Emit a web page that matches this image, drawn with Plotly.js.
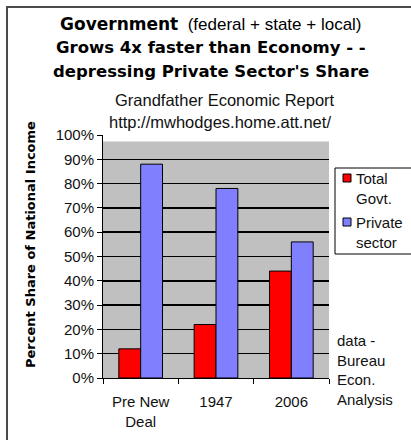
<!DOCTYPE html>
<html>
<head>
<meta charset="utf-8">
<script src="https://cdn.plot.ly/plotly-3.0.1.min.js"></script>
<style>
  html, body { margin: 0; padding: 0; background: #fff; }
  #wrap { position: relative; width: 411px; height: 440px; }
  #chart { width: 411px; height: 440px; }
  #frame { position: absolute; left: 6px; top: 6px; right: 0; bottom: 0;
           border-left: 2px solid #4a4a4a; border-top: 2px solid #4a4a4a; pointer-events: none; }
</style>
</head>
<body>
<div id="wrap"><div id="chart"></div><div id="frame"></div></div>
<script>
// ---- data ----
const categories = ["Pre New<br>Deal", "1947", "2006"];
const seriesNames = ["Total Govt.", "Private sector"];
const govtShare = [0.12, 0.22, 0.44];
const privateShare = [0.88, 0.78, 0.56];
const yTickVals = [0, 0.1, 0.2, 0.3, 0.4, 0.5, 0.6, 0.7, 0.8, 0.9, 1.0];
const yTickText = ["0%", "10%", "20%", "30%", "40%", "50%", "60%", "70%", "80%", "90%", "100%"];
const titleLines = ["Government", "(federal + state + local)", "Grows 4x faster than Economy - -", "depressing Private Sector's Share"];
const subtitleLines = ["Grandfather Economic Report", "http://mwhodges.home.att.net/"];
const yTitle = "Percent Share of National Income";
const sourceNote = ["data -", "Bureau", "Econ.", "Analysis"];

// ---- styling / layout helpers ----
const W = 411, H = 440;
const M = { l: 103, r: 82, t: 135, b: 62 };
const PW = W - M.l - M.r, PH = H - M.t - M.b;
const px = x => (x - M.l) / PW;
const py = y => (H - M.b - y) / PH;
const colors = ["#FF0000", "#8080FF"];
const ARIAL = "Liberation Sans, Arial, sans-serif";
const BOLD = "DejaVu Sans, Liberation Sans, sans-serif";

const traces = [govtShare, privateShare].map((vals, i) => ({
  type: "bar",
  x: categories,
  y: vals,
  name: seriesNames[i],
  marker: { color: colors[i], line: { color: "#000", width: 1 } },
  hoverinfo: "skip"
}));

const annotations = [
  { x: px(211), y: py(24), xref: "paper", yref: "paper", showarrow: false, xanchor: "center", yanchor: "middle",
    text: '<span style="font-family:DejaVu Sans;font-weight:bold">' + titleLines[0] + '</span>  ' + titleLines[1],
    font: { family: ARIAL, size: 17, color: "#000" } },
  { x: px(211), y: py(48), xref: "paper", yref: "paper", showarrow: false, xanchor: "center", yanchor: "middle",
    text: "<b>" + titleLines[2] + "</b>", font: { family: BOLD, size: 16.5, color: "#000" } },
  { x: px(211), y: py(71), xref: "paper", yref: "paper", showarrow: false, xanchor: "center", yanchor: "middle",
    text: "<b>" + titleLines[3] + "</b>", font: { family: BOLD, size: 16.5, color: "#000" } },
  { x: px(225), y: py(100), xref: "paper", yref: "paper", showarrow: false, xanchor: "center", yanchor: "middle",
    text: subtitleLines[0], font: { family: ARIAL, size: 16.5, color: "#111" } },
  { x: px(220), y: py(122), xref: "paper", yref: "paper", showarrow: false, xanchor: "center", yanchor: "middle",
    text: subtitleLines[1], font: { family: ARIAL, size: 16.5, color: "#111" } },
  { x: px(30), y: py(245), xref: "paper", yref: "paper", showarrow: false, xanchor: "center", yanchor: "middle",
    textangle: -90, text: "<b>" + yTitle + "</b>", font: { family: BOLD, size: 13, color: "#000" } },
  { x: px(335), y: py(370), xref: "paper", yref: "paper", showarrow: false, xanchor: "left", yanchor: "middle",
    align: "left", text: sourceNote.join("<br>"), font: { family: ARIAL, size: 15, color: "#111" } }
];

// custom legend (box, swatches, labels)
const legendTop = 168, legendBottom = 254;
const itemY = [178, 222];
const shapes = [
  { type: "rect", xref: "paper", yref: "y", x0: 0, x1: 1, y0: 0, y1: 0.973,
    fillcolor: "#C0C0C0", line: { width: 0 }, layer: "below" },
  { type: "rect", xref: "paper", yref: "paper", x0: px(335), x1: px(413), y0: py(legendBottom), y1: py(legendTop),
    fillcolor: "#fff", line: { color: "#000", width: 1 }, layer: "above" }
];
seriesNames.forEach((name, i) => {
  shapes.push({ type: "rect", xref: "paper", yref: "paper",
    x0: px(343), x1: px(351), y0: py(itemY[i] + 4), y1: py(itemY[i] - 4),
    fillcolor: colors[i], line: { color: "#000", width: 1 }, layer: "above" });
  annotations.push({ x: px(354), y: py(itemY[i] - 10), xref: "paper", yref: "paper", showarrow: false,
    xanchor: "left", yanchor: "top", align: "left", text: name.replace(" ", "<br>"),
    font: { family: ARIAL, size: 15, color: "#111" } });
});

const layout = {
  width: W, height: H,
  margin: M,
  paper_bgcolor: "#fff",
  plot_bgcolor: "rgba(0,0,0,0)",
  showlegend: false,
  barmode: "group",
  bargap: 0.42,
  bargroupgap: 0,
  font: { family: ARIAL, size: 15, color: "#111" },
  xaxis: {
    type: "category",
    showline: true, linecolor: "#000", linewidth: 1,
    ticks: "outside", tickson: "boundaries", ticklen: 5, tickcolor: "#000",
    tickfont: { family: ARIAL, size: 15, color: "#111" },
    ticklabelstandoff: 10,
    showgrid: false, zeroline: false, fixedrange: true
  },
  yaxis: {
    range: [0, 1],
    tickvals: yTickVals, ticktext: yTickText,
    showline: true, linecolor: "#000", linewidth: 1,
    ticks: "outside", ticklen: 5, tickcolor: "#000",
    tickfont: { family: ARIAL, size: 15, color: "#111" },
    showgrid: true, gridcolor: "#000", gridwidth: 1.5,
    zeroline: false, fixedrange: true
  },
  shapes: shapes,
  annotations: annotations
};

Plotly.newPlot("chart", traces, layout, { staticPlot: true, displayModeBar: false });
</script>
</body>
</html>
